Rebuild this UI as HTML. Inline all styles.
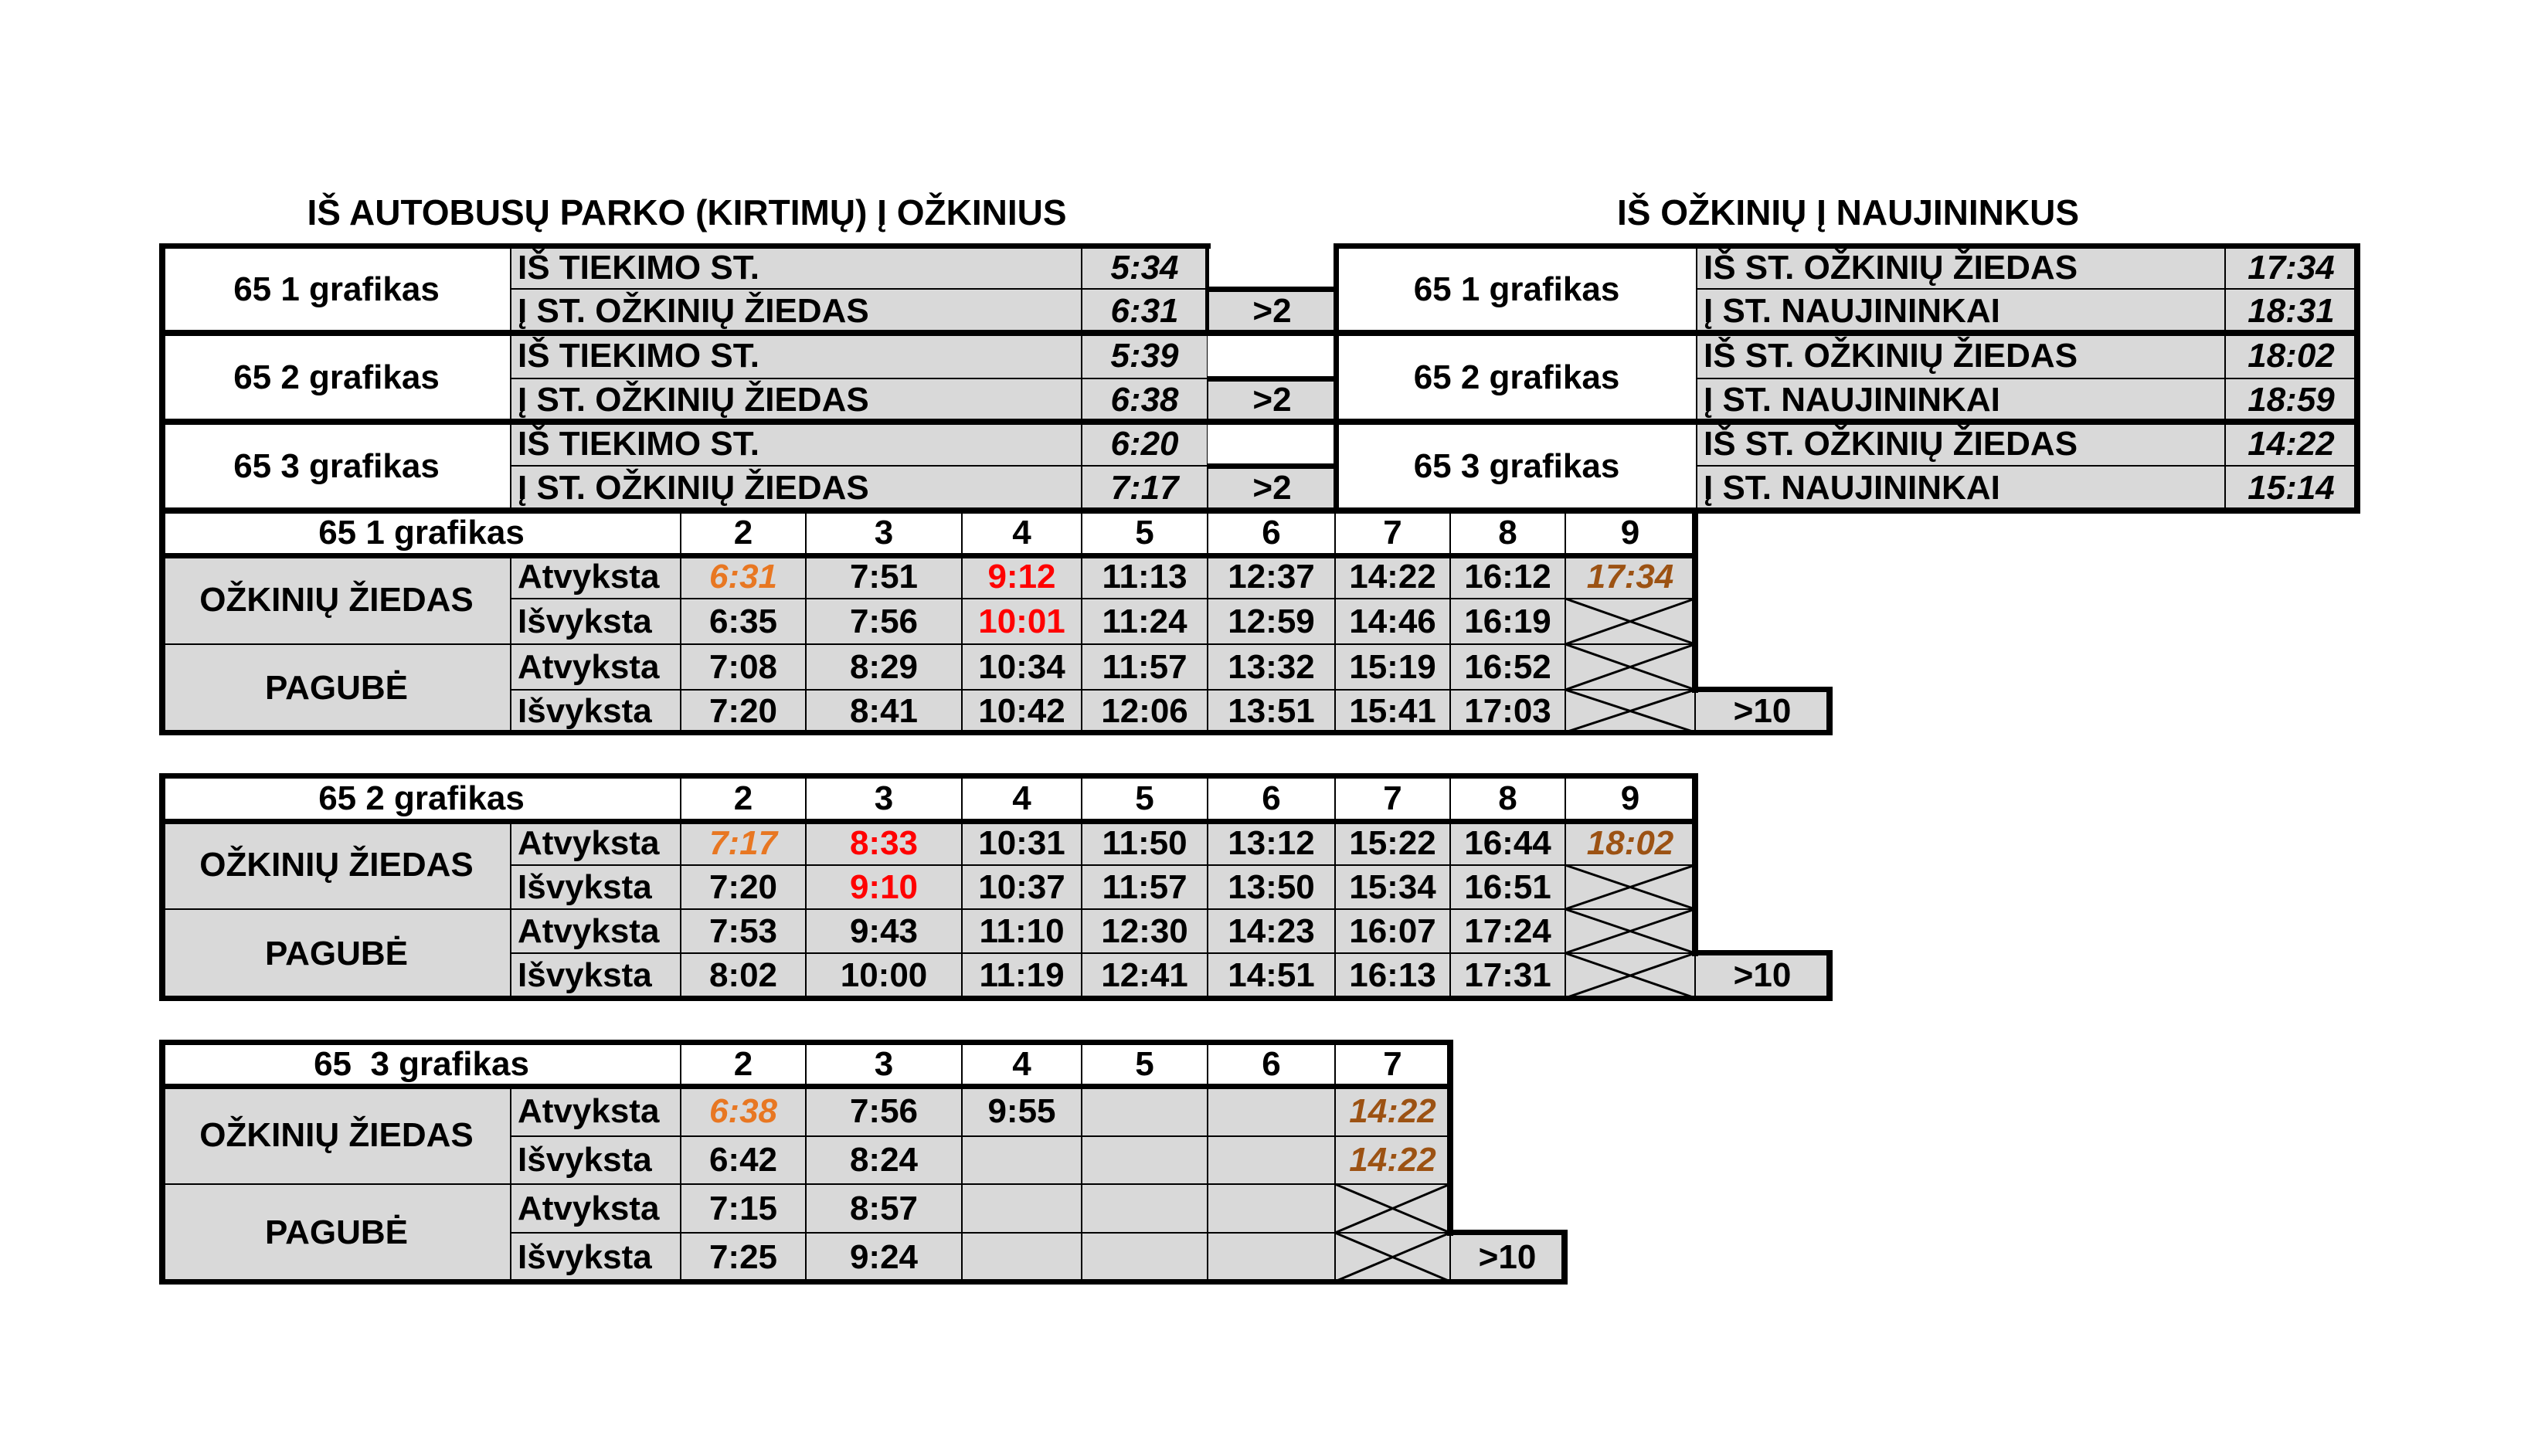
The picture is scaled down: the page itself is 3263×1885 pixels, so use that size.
<!DOCTYPE html>
<html><head><meta charset="utf-8"><style>
body{margin:0;width:3263px;height:1885px;background:#fff;position:relative;overflow:hidden;font-family:"Liberation Sans Narrow","Liberation Sans",sans-serif;font-weight:bold;}
.c{position:absolute;box-sizing:border-box;border:1.5px solid #000;display:flex;align-items:center;justify-content:center;font-size:44px;background:#d9d9d9;color:#000;white-space:nowrap;overflow:hidden}
.w{background:#fff}
.l{justify-content:flex-start;padding-left:8px}
.i{font-style:italic}
.o{color:#e87722;font-style:italic}
.r{color:#ff0000}
.b{color:#9c5213;font-style:italic}
.t{position:absolute;background:#000}
.title{position:absolute;font-size:46px;white-space:nowrap;transform:translateX(-50%)}
svg{position:absolute;left:0;top:0}
</style></head><body>
<div class="title" style="left:889px;top:248px">IŠ AUTOBUSŲ PARKO (KIRTIMŲ) Į OŽKINIUS</div>
<div class="title" style="left:2392px;top:248px">IŠ OŽKINIŲ Į NAUJININKUS</div>

<div class="c w" style="left:210px;top:319px;width:451px;height:112px">65 1 grafikas</div>
<div class="c l" style="left:661px;top:319px;width:739px;height:55px">IŠ TIEKIMO ST.</div>
<div class="c i" style="left:1400px;top:319px;width:163px;height:55px">5:34</div>
<div class="c l" style="left:661px;top:374px;width:739px;height:57px">Į ST. OŽKINIŲ ŽIEDAS</div>
<div class="c i" style="left:1400px;top:374px;width:163px;height:57px">6:31</div>
<div class="c" style="left:1563px;top:374px;width:167px;height:57px">&gt;2</div>

<div class="c w" style="left:210px;top:431px;width:451px;height:115px">65 2 grafikas</div>
<div class="c l" style="left:661px;top:431px;width:739px;height:59px">IŠ TIEKIMO ST.</div>
<div class="c i" style="left:1400px;top:431px;width:163px;height:59px">5:39</div>
<div class="c l" style="left:661px;top:490px;width:739px;height:56px">Į ST. OŽKINIŲ ŽIEDAS</div>
<div class="c i" style="left:1400px;top:490px;width:163px;height:56px">6:38</div>
<div class="c" style="left:1563px;top:490px;width:167px;height:56px">&gt;2</div>

<div class="c w" style="left:210px;top:546px;width:451px;height:115px">65 3 grafikas</div>
<div class="c l" style="left:661px;top:546px;width:739px;height:57px">IŠ TIEKIMO ST.</div>
<div class="c i" style="left:1400px;top:546px;width:163px;height:57px">6:20</div>
<div class="c l" style="left:661px;top:603px;width:739px;height:58px">Į ST. OŽKINIŲ ŽIEDAS</div>
<div class="c i" style="left:1400px;top:603px;width:163px;height:58px">7:17</div>
<div class="c" style="left:1563px;top:603px;width:167px;height:58px">&gt;2</div>

<div class="c w" style="left:1730px;top:319px;width:466px;height:112px">65 1 grafikas</div>
<div class="c l" style="left:2196px;top:319px;width:684px;height:55px">IŠ ST. OŽKINIŲ ŽIEDAS</div>
<div class="c i" style="left:2880px;top:319px;width:171px;height:55px">17:34</div>
<div class="c l" style="left:2196px;top:374px;width:684px;height:57px">Į ST. NAUJININKAI</div>
<div class="c i" style="left:2880px;top:374px;width:171px;height:57px">18:31</div>
<div class="c w" style="left:1730px;top:431px;width:466px;height:115px">65 2 grafikas</div>
<div class="c l" style="left:2196px;top:431px;width:684px;height:59px">IŠ ST. OŽKINIŲ ŽIEDAS</div>
<div class="c i" style="left:2880px;top:431px;width:171px;height:59px">18:02</div>
<div class="c l" style="left:2196px;top:490px;width:684px;height:56px">Į ST. NAUJININKAI</div>
<div class="c i" style="left:2880px;top:490px;width:171px;height:56px">18:59</div>
<div class="c w" style="left:1730px;top:546px;width:466px;height:115px">65 3 grafikas</div>
<div class="c l" style="left:2196px;top:546px;width:684px;height:57px">IŠ ST. OŽKINIŲ ŽIEDAS</div>
<div class="c i" style="left:2880px;top:546px;width:171px;height:57px">14:22</div>
<div class="c l" style="left:2196px;top:603px;width:684px;height:58px">Į ST. NAUJININKAI</div>
<div class="c i" style="left:2880px;top:603px;width:171px;height:58px">15:14</div>

<div class="c w" style="left:210px;top:661px;width:671px;height:58px">65 1 grafikas</div>
<div class="c w" style="left:881px;top:661px;width:162px;height:58px">2</div>
<div class="c w" style="left:1043px;top:661px;width:202px;height:58px">3</div>
<div class="c w" style="left:1245px;top:661px;width:155px;height:58px">4</div>
<div class="c w" style="left:1400px;top:661px;width:163px;height:58px">5</div>
<div class="c w" style="left:1563px;top:661px;width:165px;height:58px">6</div>
<div class="c w" style="left:1728px;top:661px;width:149px;height:58px">7</div>
<div class="c w" style="left:1877px;top:661px;width:149px;height:58px">8</div>
<div class="c w" style="left:2026px;top:661px;width:168px;height:58px">9</div>
<div class="c" style="left:210px;top:719px;width:451px;height:115px">OŽKINIŲ ŽIEDAS</div>
<div class="c" style="left:210px;top:834px;width:451px;height:114px">PAGUBĖ</div>
<div class="c l" style="left:661px;top:719px;width:220px;height:56px">Atvyksta</div>
<div class="c l" style="left:661px;top:775px;width:220px;height:59px">Išvyksta</div>
<div class="c l" style="left:661px;top:834px;width:220px;height:59px">Atvyksta</div>
<div class="c l" style="left:661px;top:893px;width:220px;height:55px">Išvyksta</div>
<div class="c o" style="left:881px;top:719px;width:162px;height:56px">6:31</div>
<div class="c" style="left:1043px;top:719px;width:202px;height:56px">7:51</div>
<div class="c r" style="left:1245px;top:719px;width:155px;height:56px">9:12</div>
<div class="c" style="left:1400px;top:719px;width:163px;height:56px">11:13</div>
<div class="c" style="left:1563px;top:719px;width:165px;height:56px">12:37</div>
<div class="c" style="left:1728px;top:719px;width:149px;height:56px">14:22</div>
<div class="c" style="left:1877px;top:719px;width:149px;height:56px">16:12</div>
<div class="c b" style="left:2026px;top:719px;width:168px;height:56px">17:34</div>
<div class="c" style="left:881px;top:775px;width:162px;height:59px">6:35</div>
<div class="c" style="left:1043px;top:775px;width:202px;height:59px">7:56</div>
<div class="c r" style="left:1245px;top:775px;width:155px;height:59px">10:01</div>
<div class="c" style="left:1400px;top:775px;width:163px;height:59px">11:24</div>
<div class="c" style="left:1563px;top:775px;width:165px;height:59px">12:59</div>
<div class="c" style="left:1728px;top:775px;width:149px;height:59px">14:46</div>
<div class="c" style="left:1877px;top:775px;width:149px;height:59px">16:19</div>
<div class="c" style="left:2026px;top:775px;width:168px;height:59px"></div>
<div class="c" style="left:881px;top:834px;width:162px;height:59px">7:08</div>
<div class="c" style="left:1043px;top:834px;width:202px;height:59px">8:29</div>
<div class="c" style="left:1245px;top:834px;width:155px;height:59px">10:34</div>
<div class="c" style="left:1400px;top:834px;width:163px;height:59px">11:57</div>
<div class="c" style="left:1563px;top:834px;width:165px;height:59px">13:32</div>
<div class="c" style="left:1728px;top:834px;width:149px;height:59px">15:19</div>
<div class="c" style="left:1877px;top:834px;width:149px;height:59px">16:52</div>
<div class="c" style="left:2026px;top:834px;width:168px;height:59px"></div>
<div class="c" style="left:881px;top:893px;width:162px;height:55px">7:20</div>
<div class="c" style="left:1043px;top:893px;width:202px;height:55px">8:41</div>
<div class="c" style="left:1245px;top:893px;width:155px;height:55px">10:42</div>
<div class="c" style="left:1400px;top:893px;width:163px;height:55px">12:06</div>
<div class="c" style="left:1563px;top:893px;width:165px;height:55px">13:51</div>
<div class="c" style="left:1728px;top:893px;width:149px;height:55px">15:41</div>
<div class="c" style="left:1877px;top:893px;width:149px;height:55px">17:03</div>
<div class="c" style="left:2026px;top:893px;width:168px;height:55px"></div>
<div class="c" style="left:2194px;top:893px;width:174px;height:55px">&gt;10</div>

<div class="c w" style="left:210px;top:1005px;width:671px;height:58px">65 2 grafikas</div>
<div class="c w" style="left:881px;top:1005px;width:162px;height:58px">2</div>
<div class="c w" style="left:1043px;top:1005px;width:202px;height:58px">3</div>
<div class="c w" style="left:1245px;top:1005px;width:155px;height:58px">4</div>
<div class="c w" style="left:1400px;top:1005px;width:163px;height:58px">5</div>
<div class="c w" style="left:1563px;top:1005px;width:165px;height:58px">6</div>
<div class="c w" style="left:1728px;top:1005px;width:149px;height:58px">7</div>
<div class="c w" style="left:1877px;top:1005px;width:149px;height:58px">8</div>
<div class="c w" style="left:2026px;top:1005px;width:168px;height:58px">9</div>
<div class="c" style="left:210px;top:1063px;width:451px;height:114px">OŽKINIŲ ŽIEDAS</div>
<div class="c" style="left:210px;top:1177px;width:451px;height:115px">PAGUBĖ</div>
<div class="c l" style="left:661px;top:1063px;width:220px;height:57px">Atvyksta</div>
<div class="c l" style="left:661px;top:1120px;width:220px;height:57px">Išvyksta</div>
<div class="c l" style="left:661px;top:1177px;width:220px;height:57px">Atvyksta</div>
<div class="c l" style="left:661px;top:1234px;width:220px;height:58px">Išvyksta</div>
<div class="c o" style="left:881px;top:1063px;width:162px;height:57px">7:17</div>
<div class="c r" style="left:1043px;top:1063px;width:202px;height:57px">8:33</div>
<div class="c" style="left:1245px;top:1063px;width:155px;height:57px">10:31</div>
<div class="c" style="left:1400px;top:1063px;width:163px;height:57px">11:50</div>
<div class="c" style="left:1563px;top:1063px;width:165px;height:57px">13:12</div>
<div class="c" style="left:1728px;top:1063px;width:149px;height:57px">15:22</div>
<div class="c" style="left:1877px;top:1063px;width:149px;height:57px">16:44</div>
<div class="c b" style="left:2026px;top:1063px;width:168px;height:57px">18:02</div>
<div class="c" style="left:881px;top:1120px;width:162px;height:57px">7:20</div>
<div class="c r" style="left:1043px;top:1120px;width:202px;height:57px">9:10</div>
<div class="c" style="left:1245px;top:1120px;width:155px;height:57px">10:37</div>
<div class="c" style="left:1400px;top:1120px;width:163px;height:57px">11:57</div>
<div class="c" style="left:1563px;top:1120px;width:165px;height:57px">13:50</div>
<div class="c" style="left:1728px;top:1120px;width:149px;height:57px">15:34</div>
<div class="c" style="left:1877px;top:1120px;width:149px;height:57px">16:51</div>
<div class="c" style="left:2026px;top:1120px;width:168px;height:57px"></div>
<div class="c" style="left:881px;top:1177px;width:162px;height:57px">7:53</div>
<div class="c" style="left:1043px;top:1177px;width:202px;height:57px">9:43</div>
<div class="c" style="left:1245px;top:1177px;width:155px;height:57px">11:10</div>
<div class="c" style="left:1400px;top:1177px;width:163px;height:57px">12:30</div>
<div class="c" style="left:1563px;top:1177px;width:165px;height:57px">14:23</div>
<div class="c" style="left:1728px;top:1177px;width:149px;height:57px">16:07</div>
<div class="c" style="left:1877px;top:1177px;width:149px;height:57px">17:24</div>
<div class="c" style="left:2026px;top:1177px;width:168px;height:57px"></div>
<div class="c" style="left:881px;top:1234px;width:162px;height:58px">8:02</div>
<div class="c" style="left:1043px;top:1234px;width:202px;height:58px">10:00</div>
<div class="c" style="left:1245px;top:1234px;width:155px;height:58px">11:19</div>
<div class="c" style="left:1400px;top:1234px;width:163px;height:58px">12:41</div>
<div class="c" style="left:1563px;top:1234px;width:165px;height:58px">14:51</div>
<div class="c" style="left:1728px;top:1234px;width:149px;height:58px">16:13</div>
<div class="c" style="left:1877px;top:1234px;width:149px;height:58px">17:31</div>
<div class="c" style="left:2026px;top:1234px;width:168px;height:58px"></div>
<div class="c" style="left:2194px;top:1234px;width:174px;height:58px">&gt;10</div>

<div class="c w" style="left:210px;top:1350px;width:671px;height:56px">65&nbsp; 3 grafikas</div>
<div class="c w" style="left:881px;top:1350px;width:162px;height:56px">2</div>
<div class="c w" style="left:1043px;top:1350px;width:202px;height:56px">3</div>
<div class="c w" style="left:1245px;top:1350px;width:155px;height:56px">4</div>
<div class="c w" style="left:1400px;top:1350px;width:163px;height:56px">5</div>
<div class="c w" style="left:1563px;top:1350px;width:165px;height:56px">6</div>
<div class="c w" style="left:1728px;top:1350px;width:149px;height:56px">7</div>
<div class="c" style="left:210px;top:1406px;width:451px;height:127px">OŽKINIŲ ŽIEDAS</div>
<div class="c" style="left:210px;top:1533px;width:451px;height:126px">PAGUBĖ</div>
<div class="c l" style="left:661px;top:1406px;width:220px;height:65px">Atvyksta</div>
<div class="c l" style="left:661px;top:1471px;width:220px;height:62px">Išvyksta</div>
<div class="c l" style="left:661px;top:1533px;width:220px;height:63px">Atvyksta</div>
<div class="c l" style="left:661px;top:1596px;width:220px;height:63px">Išvyksta</div>
<div class="c o" style="left:881px;top:1406px;width:162px;height:65px">6:38</div>
<div class="c" style="left:1043px;top:1406px;width:202px;height:65px">7:56</div>
<div class="c" style="left:1245px;top:1406px;width:155px;height:65px">9:55</div>
<div class="c" style="left:1400px;top:1406px;width:163px;height:65px"></div>
<div class="c" style="left:1563px;top:1406px;width:165px;height:65px"></div>
<div class="c b" style="left:1728px;top:1406px;width:149px;height:65px">14:22</div>
<div class="c" style="left:881px;top:1471px;width:162px;height:62px">6:42</div>
<div class="c" style="left:1043px;top:1471px;width:202px;height:62px">8:24</div>
<div class="c" style="left:1245px;top:1471px;width:155px;height:62px"></div>
<div class="c" style="left:1400px;top:1471px;width:163px;height:62px"></div>
<div class="c" style="left:1563px;top:1471px;width:165px;height:62px"></div>
<div class="c b" style="left:1728px;top:1471px;width:149px;height:62px">14:22</div>
<div class="c" style="left:881px;top:1533px;width:162px;height:63px">7:15</div>
<div class="c" style="left:1043px;top:1533px;width:202px;height:63px">8:57</div>
<div class="c" style="left:1245px;top:1533px;width:155px;height:63px"></div>
<div class="c" style="left:1400px;top:1533px;width:163px;height:63px"></div>
<div class="c" style="left:1563px;top:1533px;width:165px;height:63px"></div>
<div class="c" style="left:1728px;top:1533px;width:149px;height:63px"></div>
<div class="c" style="left:881px;top:1596px;width:162px;height:63px">7:25</div>
<div class="c" style="left:1043px;top:1596px;width:202px;height:63px">9:24</div>
<div class="c" style="left:1245px;top:1596px;width:155px;height:63px"></div>
<div class="c" style="left:1400px;top:1596px;width:163px;height:63px"></div>
<div class="c" style="left:1563px;top:1596px;width:165px;height:63px"></div>
<div class="c" style="left:1728px;top:1596px;width:149px;height:63px"></div>
<div class="c" style="left:1877px;top:1596px;width:148px;height:63px">&gt;10</div>

<svg width="3263" height="1885" stroke="#000" stroke-width="3">
<line x1="2026" y1="775" x2="2194" y2="834"/><line x1="2026" y1="834" x2="2194" y2="775"/>
<line x1="2026" y1="834" x2="2194" y2="893"/><line x1="2026" y1="893" x2="2194" y2="834"/>
<line x1="2026" y1="893" x2="2194" y2="948"/><line x1="2026" y1="948" x2="2194" y2="893"/>
<line x1="2026" y1="1120" x2="2194" y2="1177"/><line x1="2026" y1="1177" x2="2194" y2="1120"/>
<line x1="2026" y1="1177" x2="2194" y2="1234"/><line x1="2026" y1="1234" x2="2194" y2="1177"/>
<line x1="2026" y1="1234" x2="2194" y2="1292"/><line x1="2026" y1="1292" x2="2194" y2="1234"/>
<line x1="1728" y1="1533" x2="1877" y2="1596"/><line x1="1728" y1="1596" x2="1877" y2="1533"/>
<line x1="1728" y1="1596" x2="1877" y2="1659"/><line x1="1728" y1="1659" x2="1877" y2="1596"/>
</svg>

<div class="t" style="left:206px;top:315px;width:1361px;height:7px"></div>
<div class="t" style="left:1726px;top:315px;width:1329px;height:7px"></div>
<div class="t" style="left:206px;top:315px;width:8px;height:637px"></div>
<div class="t" style="left:1560px;top:315px;width:5px;height:116px"></div>
<div class="t" style="left:1563px;top:371px;width:167px;height:7px"></div>
<div class="t" style="left:1563px;top:487px;width:167px;height:7px"></div>
<div class="t" style="left:1563px;top:600px;width:167px;height:7px"></div>
<div class="t" style="left:1726px;top:315px;width:7px;height:350px"></div>
<div class="t" style="left:3047px;top:315px;width:8px;height:350px"></div>
<div class="t" style="left:206px;top:427px;width:2849px;height:8px"></div>
<div class="t" style="left:206px;top:542px;width:2849px;height:8px"></div>
<div class="t" style="left:206px;top:657px;width:2849px;height:8px"></div>
<div class="t" style="left:206px;top:716px;width:1992px;height:7px"></div>
<div class="t" style="left:2190px;top:657px;width:8px;height:240px"></div>
<div class="t" style="left:2190px;top:889px;width:182px;height:7px"></div>
<div class="t" style="left:2364px;top:889px;width:8px;height:63px"></div>
<div class="t" style="left:206px;top:945px;width:2166px;height:7px"></div>
<div class="t" style="left:206px;top:1001px;width:1992px;height:7px"></div>
<div class="t" style="left:206px;top:1001px;width:8px;height:295px"></div>
<div class="t" style="left:206px;top:1060px;width:1992px;height:7px"></div>
<div class="t" style="left:2190px;top:1001px;width:8px;height:237px"></div>
<div class="t" style="left:2190px;top:1230px;width:182px;height:7px"></div>
<div class="t" style="left:2364px;top:1230px;width:8px;height:66px"></div>
<div class="t" style="left:206px;top:1289px;width:2166px;height:7px"></div>
<div class="t" style="left:206px;top:1346px;width:1675px;height:7px"></div>
<div class="t" style="left:206px;top:1346px;width:8px;height:317px"></div>
<div class="t" style="left:206px;top:1403px;width:1675px;height:7px"></div>
<div class="t" style="left:1873px;top:1346px;width:8px;height:254px"></div>
<div class="t" style="left:1873px;top:1592px;width:156px;height:7px"></div>
<div class="t" style="left:2021px;top:1592px;width:8px;height:71px"></div>
<div class="t" style="left:206px;top:1656px;width:1823px;height:7px"></div>
</body></html>
